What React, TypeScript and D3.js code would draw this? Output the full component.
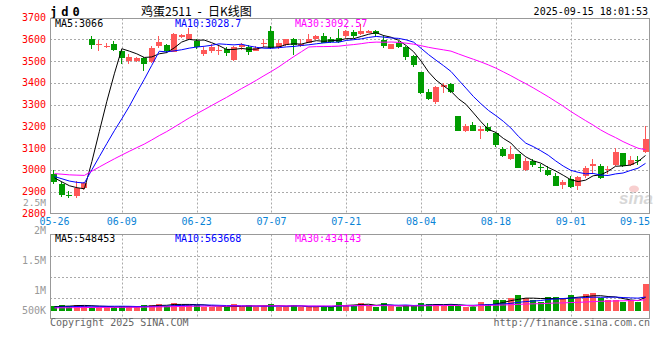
import React, { useEffect } from 'react';
import * as d3 from 'd3';

// trading days 2025-05-26 .. 2025-09-15
const dates = [
  '05-26','05-27','05-28','05-29','05-30','06-03','06-04','06-05','06-06','06-09',
  '06-10','06-11','06-12','06-13','06-16','06-17','06-18','06-19','06-20','06-23',
  '06-24','06-25','06-26','06-27','06-30','07-01','07-02','07-03','07-04','07-07',
  '07-08','07-09','07-10','07-11','07-14','07-15','07-16','07-17','07-18','07-21',
  '07-22','07-23','07-24','07-25','07-28','07-29','07-30','07-31','08-01','08-04',
  '08-05','08-06','08-07','08-08','08-11','08-12','08-13','08-14','08-15','08-18',
  '08-19','08-20','08-21','08-22','08-25','08-26','08-27','08-28','08-29','09-01',
  '09-02','09-03','09-04','09-05','09-08','09-09','09-10','09-11','09-12','09-15'
];

const openPrices = [
  2980,2936,2886,2882,2916, 3600,3575,3566,3580,3544,
  3502,3502,3514,3496,3567, 3572,3543,3609,3602,3594,
  3532,3546,3549,3554,3505, 3563,3563,3548,3577,3639,
  3563,3573,3601,3570,3582, 3600,3615,3601,3604,3615,
  3633,3624,3630,3637,3597, 3556,3581,3566,3523,3449,
  3357,3311,3379,3395,3249, 3177,3207,3180,3197,3169,
  3098,3048,3071,3000,3040, 3013,3001,2973,2930,2958,
  2925,2970,3019,3019,3001, 3022,3079,3022,3047,3082
];
const highPrices = [
  2998,2945,2902,2948,2945, 3613,3597,3585,3590,3552,
  3532,3520,3520,3568,3613, 3580,3630,3624,3650,3600,
  3566,3578,3569,3566,3568, 3584,3573,3570,3600,3661,
  3596,3603,3604,3600,3624, 3620,3627,3611,3646,3643,
  3643,3670,3643,3641,3620, 3580,3594,3568,3528,3452,
  3370,3384,3398,3398,3250, 3212,3218,3200,3214,3172,
  3106,3111,3075,3054,3048, 3029,3016,2985,2955,2973,
  2970,3016,3050,3028,3020, 3100,3079,3064,3064,3200
];
const lowPrices = [
  2937,2876,2872,2872,2910, 3555,3546,3560,3544,3487,
  3488,3494,3456,3491,3560, 3538,3540,3604,3598,3554,
  3521,3536,3530,3523,3500, 3550,3528,3545,3565,3555,
  3557,3569,3530,3566,3582, 3597,3582,3582,3582,3605,
  3605,3619,3627,3612,3560, 3554,3560,3505,3474,3349,
  3319,3303,3352,3352,3178, 3172,3178,3144,3176,3106,
  3060,3045,3007,2994,3015, 2989,2970,2925,2914,2918,
  2907,2962,2983,2960,2983, 3018,3013,3018,3025,3078
];
const closePrices = [
  2946,2883,2882,2918,2938, 3572,3578,3570,3549,3514,
  3517,3516,3487,3560,3587, 3544,3624,3621,3622,3566,
  3550,3563,3553,3535,3566, 3573,3543,3558,3584,3558,
  3581,3599,3574,3578,3600, 3617,3585,3588,3588,3637,
  3615,3637,3639,3624,3570, 3577,3566,3520,3482,3355,
  3326,3379,3390,3357,3181, 3200,3181,3189,3178,3113,
  3063,3075,3010,3040,3022, 3010,2975,2928,2943,2920,
  2967,3008,3028,2963,3004, 3082,3016,3047,3044,3143
];
// closes before 05-26, only used for the moving averages
const priorCloses = [
  2960,2972,2958,2970,2985,3002,3010,2995,2988,3004,
  3012,2998,2990,2983,2996,3008,2994,2987,2990,2988,
  2990,2985,2978,2968,2962,2975,2970,2962,2964
];

const volumes = [
  197000,239000,197000,239000,197000, 141000,141000,141000,141000,169000,
  169000,141000,239000,239000,281000, 197000,323000,239000,239000,239000,
  141000,141000,141000,141000,281000, 141000,239000,141000,197000,281000,
  141000,141000,239000,141000,141000, 141000,197000,141000,366000,225000,
  225000,309000,197000,141000,309000, 169000,141000,225000,169000,309000,
  281000,281000,197000,225000,225000, 141000,141000,366000,281000,450000,
  450000,534000,633000,534000,450000, 366000,576000,576000,478000,633000,
  534000,703000,745000,506000,450000, 450000,366000,450000,366000,1125000
];
const priorVolumes = [
  90000,95000,80000,100000,85000,90000,110000,95000,85000,100000,
  90000,105000,95000,85000,100000,110000,95000,90000,105000,100000,
  95000,110000,120000,105000,130000,140000,150000,135000,160000
];

const priceTicks = [2800, 2900, 3000, 3100, 3200, 3300, 3400, 3500, 3600, 3700];
const dateTicks = ['05-26', '06-09', '06-23', '07-07', '07-21', '08-04', '08-18', '09-01', '09-15'];
const volumeTickLabels = ['2.5M', '2M', '1.5M', '1M', '500K'];
const volumeTickValues = [2500000, 2000000, 1500000, 1000000, 500000];
const maPeriods = [5, 10, 30];
const maColors = ['#000000', '#0000ff', '#ff00ff'];
const priceMaLegend = ['3066', '3028.7', '3092.57'];
const volumeMaLegend = ['548453', '563668', '434143'];

const W = 660, H = 360;
const left = 50, right = 650;
const priceTop = 18.5, priceBottom = 213.5;
const volTop = 234.5, volBottom = 318.5, volBase = 310.5;
const upColor = '#ff5858';
const downColor = '#009c00';
const gridColor = '#aaaaaa';
const frameColor = '#999999';
const mono = '"DejaVu Sans Mono", "Liberation Mono", monospace';

function movingAverage(prior: number[], values: number[], n: number) {
  const all = prior.concat(values);
  return values.map((_, i) => d3.mean(all.slice(prior.length + i - n + 1, prior.length + i + 1)) as number);
}

export default function App() {
  useEffect(() => {
    document.body.style.margin = '0';
  }, []);

  const n = dates.length;
  const x = d3.scaleBand<number>().domain(d3.range(n)).range([left, right]).padding(0.2);
  const bw = Math.round(x.bandwidth());
  const x0 = (i: number) => Math.round(x(i) as number);
  const cx = (i: number) => (x(i) as number) + x.bandwidth() / 2;

  const y = d3.scaleLinear().domain([2800, 3700]).range([priceBottom, 17.5]);
  const yVol = d3.scaleLinear().domain([0, 3200000]).range([volBase, volTop]);
  const yVolLabel = d3.scaleLinear().domain([1000000, 2000000]).range([290.7, 230.7]);

  const priceMa = maPeriods.map(p => movingAverage(priorCloses, closePrices, p));
  const volMa = maPeriods.map(p => movingAverage(priorVolumes, volumes, p));

  const priceLine = (ma: number[]) => d3.line<number>().x((_, i) => cx(i)).y(d => y(d))(ma) || '';
  const volLine = (ma: number[]) => d3.line<number>().x((_, i) => cx(i)).y(d => yVol(d))(ma) || '';

  const tickIdx = dateTicks.map(t => dates.indexOf(t));
  const volQuarters = d3.range(1, 4).map(k => volTop + (volBottom - volTop) * k / 4);

  return (
    <svg width={W} height={H} style={{ position: 'absolute', left: 0, top: 0, background: '#fff' }}
         fontFamily={mono}>
      <defs>
        <clipPath id="priceClip">
          <rect x={left} y={priceTop} width={right - left} height={priceBottom - priceTop} />
        </clipPath>
        <clipPath id="volClip">
          <rect x={left} y={volTop} width={right - left} height={volBottom - volTop} />
        </clipPath>
      </defs>

      {/* header */}
      <text x={50} y={16} fontSize={12} fontWeight="bold" letterSpacing={4}>jd0</text>
      <text x={141} y={16} fontSize={12} fontFamily='"Noto Sans CJK SC", sans-serif'>鸡蛋2511</text>
      <text x={196} y={16} fontSize={12}>-</text>
      <text x={208} y={16} fontSize={12} fontFamily='"Noto Sans CJK SC", sans-serif'>日K线图</text>
      <text x={648} y={15} fontSize={10} textAnchor="end">2025-09-15 18:01:53</text>

      {/* price grid */}
      {priceTicks.slice(1, -1).map(t => (
        <line key={t} x1={left} x2={right} y1={Math.round(y(t)) + 0.5} y2={Math.round(y(t)) + 0.5}
              stroke={gridColor} strokeDasharray="2,2" />
      ))}
      {tickIdx.slice(1, -1).map(i => (
        <line key={i} x1={Math.round(cx(i)) + 0.5} x2={Math.round(cx(i)) + 0.5} y1={priceTop} y2={priceBottom}
              stroke={gridColor} strokeDasharray="2,2" />
      ))}

      {/* watermark */}
      <g opacity={0.55}>
        <ellipse cx={634} cy={189} rx={5} ry={3.5} fill="#f3a9a9" />
        <text x={619} y={204} fontSize={17} fontWeight="bold" fontStyle="italic"
              fontFamily='"Liberation Sans", sans-serif' fill="#b8b8b8">sina</text>
      </g>

      {/* candles */}
      <g clipPath="url(#priceClip)">
        {closePrices.map((c, i) => {
          const o = openPrices[i];
          const col = c >= o ? upColor : downColor;
          const top = Math.round(y(Math.max(o, c)));
          const h = Math.max(1, Math.round(y(Math.min(o, c))) - top);
          return (
            <g key={i}>
              <line x1={x0(i) + 2.5} x2={x0(i) + 2.5} y1={Math.round(y(highPrices[i]))} y2={Math.round(y(lowPrices[i]))}
                    stroke={col} />
              <rect x={x0(i)} y={top} width={bw} height={h} fill={col} />
            </g>
          );
        })}
        {priceMa.map((ma, k) => (
          <path key={k} d={priceLine(ma)} fill="none" stroke={maColors[k]} strokeWidth={1} />
        ))}
      </g>

      {/* price frame */}
      <rect x={left + 0.5} y={priceTop} width={right - left - 1} height={priceBottom - priceTop}
            fill="none" stroke={frameColor} />

      {/* price axis */}
      {priceTicks.map(t => (
        <text key={t} x={46} y={y(t)} dy="0.35em" fontSize={10} textAnchor="end" fill="#ff0000">{t}</text>
      ))}

      {/* price legend */}
      {priceMaLegend.map((v, k) => (
        <text key={k} x={55 + k * 120} y={27} fontSize={10} fill={maColors[k]}>
          {'MA' + maPeriods[k] + ':' + v}
        </text>
      ))}

      {/* date labels */}
      {tickIdx.map((i, k) => (
        <text key={k} x={Math.min(cx(i), right - 15)} y={225} fontSize={10} textAnchor="middle" fill="#0a84d6">
          {dateTicks[k]}
        </text>
      ))}

      {/* volume grid */}
      {volQuarters.map((v, k) => (
        <line key={k} x1={left} x2={right} y1={Math.round(v) + 0.5} y2={Math.round(v) + 0.5}
              stroke={gridColor} strokeDasharray="2,2" />
      ))}
      {tickIdx.slice(1, -1).map(i => (
        <line key={i} x1={Math.round(cx(i)) + 0.5} x2={Math.round(cx(i)) + 0.5} y1={volTop} y2={volBottom}
              stroke={gridColor} strokeDasharray="2,2" />
      ))}

      {/* volume bars */}
      <g clipPath="url(#volClip)">
        {volumes.map((v, i) => {
          const col = closePrices[i] >= openPrices[i] ? upColor : downColor;
          const top = Math.round(yVol(v));
          return <rect key={i} x={x0(i)} y={top} width={bw} height={Math.round(volBase) - top} fill={col} />;
        })}
        {volMa.map((ma, k) => (
          <path key={k} d={volLine(ma)} fill="none" stroke={maColors[k]} strokeWidth={1} />
        ))}
      </g>

      {/* volume frame */}
      <rect x={left + 0.5} y={volTop} width={right - left - 1} height={volBottom - volTop}
            fill="none" stroke={frameColor} />

      {/* volume axis (the top label sits inside the price panel, as in the original) */}
      {volumeTickValues.map((v, k) => (
        <text key={k} x={46} y={Math.min(yVolLabel(v) + (k === 0 ? 1.5 : 0), volBottom - 8.5)} dy="0.35em"
              fontSize={k === 0 ? 9.5 : 10} textAnchor="end" fill="#999999">{volumeTickLabels[k]}</text>
      ))}

      {/* volume legend */}
      {volumeMaLegend.map((v, k) => (
        <text key={k} x={55 + k * 120} y={242} fontSize={10} fill={maColors[k]}>
          {'MA' + maPeriods[k] + ':' + v}
        </text>
      ))}

      {/* footer */}
      <text x={50} y={326} fontSize={10} fill="#666666">Copyright 2025 SINA.COM</text>
      <text x={650} y={326} fontSize={10} fill="#666666" textAnchor="end">http://finance.sina.com.cn</text>
    </svg>
  );
}
